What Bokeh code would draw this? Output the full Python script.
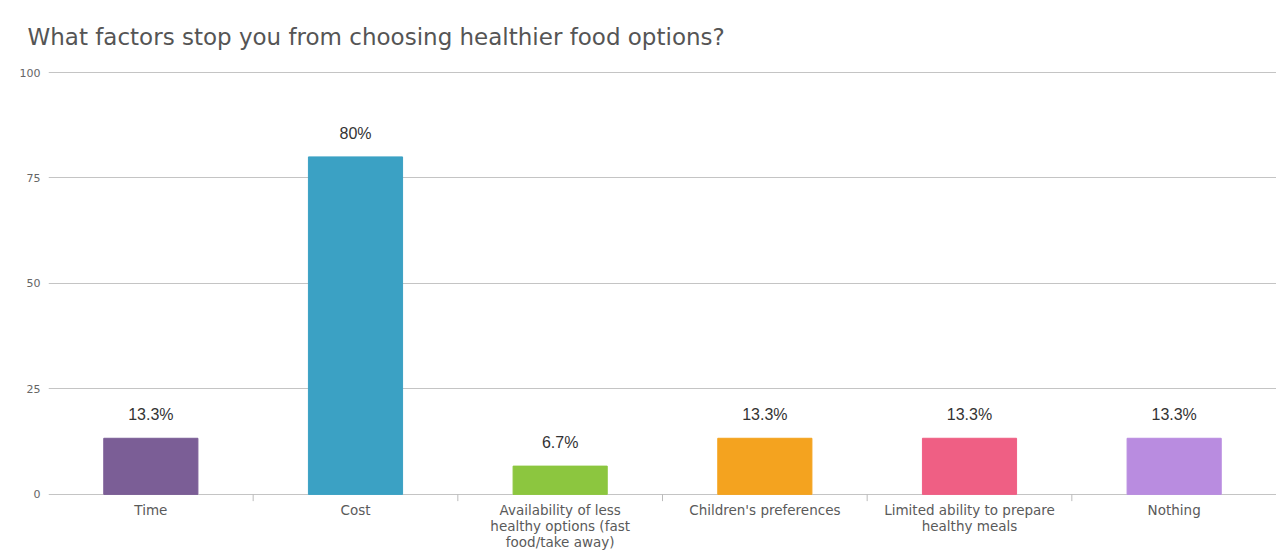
from bokeh.plotting import figure
from bokeh.models import FixedTicker, ColumnDataSource, Range1d
from bokeh.core.properties import value
from bokeh.embed import file_html
from bokeh.resources import INLINE

categories = ["Time", "Cost", "Availability of less\nhealthy options (fast\nfood/take away)",
              "Children's preferences", "Limited ability to prepare\nhealthy meals", "Nothing"]
values = [13.3, 80, 6.7, 13.3, 13.3, 13.3]
value_labels = ["13.3%", "80%", "6.7%", "13.3%", "13.3%", "13.3%"]
colors = ["#7b5e96", "#3ba1c4", "#8cc63f", "#f4a31f", "#ef5f84", "#b98ce0"]
y_ticks = [0, 25, 50, 75, 100]
title = "What factors stop you from choosing healthier food options?"

xs = [i + 0.5 for i in range(len(categories))]
src = ColumnDataSource(dict(x=xs, top=values, color=colors, lab=value_labels, cat=categories))

p = figure(width=1276, height=558, output_backend="svg", toolbar_location=None,
           x_range=Range1d(0, 6), y_range=Range1d(-15.2, 103.8),
           min_border_left=48, min_border_right=0, min_border_bottom=0, min_border_top=56)
p.title.text = title
p.title.text_font = "DejaVu Sans"
p.title.text_font_size = "23px"
p.title.text_font_style = "normal"
p.title.text_color = "#555555"
p.title.offset = -21
p.title.standoff = 14

p.outline_line_color = None
p.xaxis.visible = False
p.xgrid.visible = False
p.yaxis.ticker = FixedTicker(ticks=y_ticks)
p.ygrid.ticker = FixedTicker(ticks=y_ticks)
p.ygrid.grid_line_color = "#c4c4c4"
p.ygrid.grid_line_width = 1
p.yaxis.axis_line_color = None
p.yaxis.major_tick_line_color = None
p.yaxis.minor_tick_line_color = None
p.yaxis.major_label_text_font = "DejaVu Sans"
p.yaxis.major_label_text_font_size = "11px"
p.yaxis.major_label_text_color = "#666666"
p.yaxis.major_label_standoff = 2

p.vbar(x="x", top="top", bottom=0, width=0.46, color="color", source=src)

# category separator ticks
p.segment(x0=[1, 2, 3, 4, 5], y0=[0] * 5, x1=[1, 2, 3, 4, 5], y1=[-1.6] * 5,
          line_color="#bbbbbb", line_width=1)

p.text(x="x", y="top", text="lab", source=src, text_align="center", text_baseline="bottom",
       y_offset=-15, text_font=value("Liberation Sans"), text_font_size="16px", text_color="#333333")

p.text(x="x", y=0, text="cat", source=src, text_align="center", text_baseline="top",
       y_offset=8, text_font=value("DejaVu Sans"), text_font_size="13.5px", text_color="#5a5a5a",
       text_line_height=1.0)

open("out.html", "w").write(file_html(p, INLINE))
